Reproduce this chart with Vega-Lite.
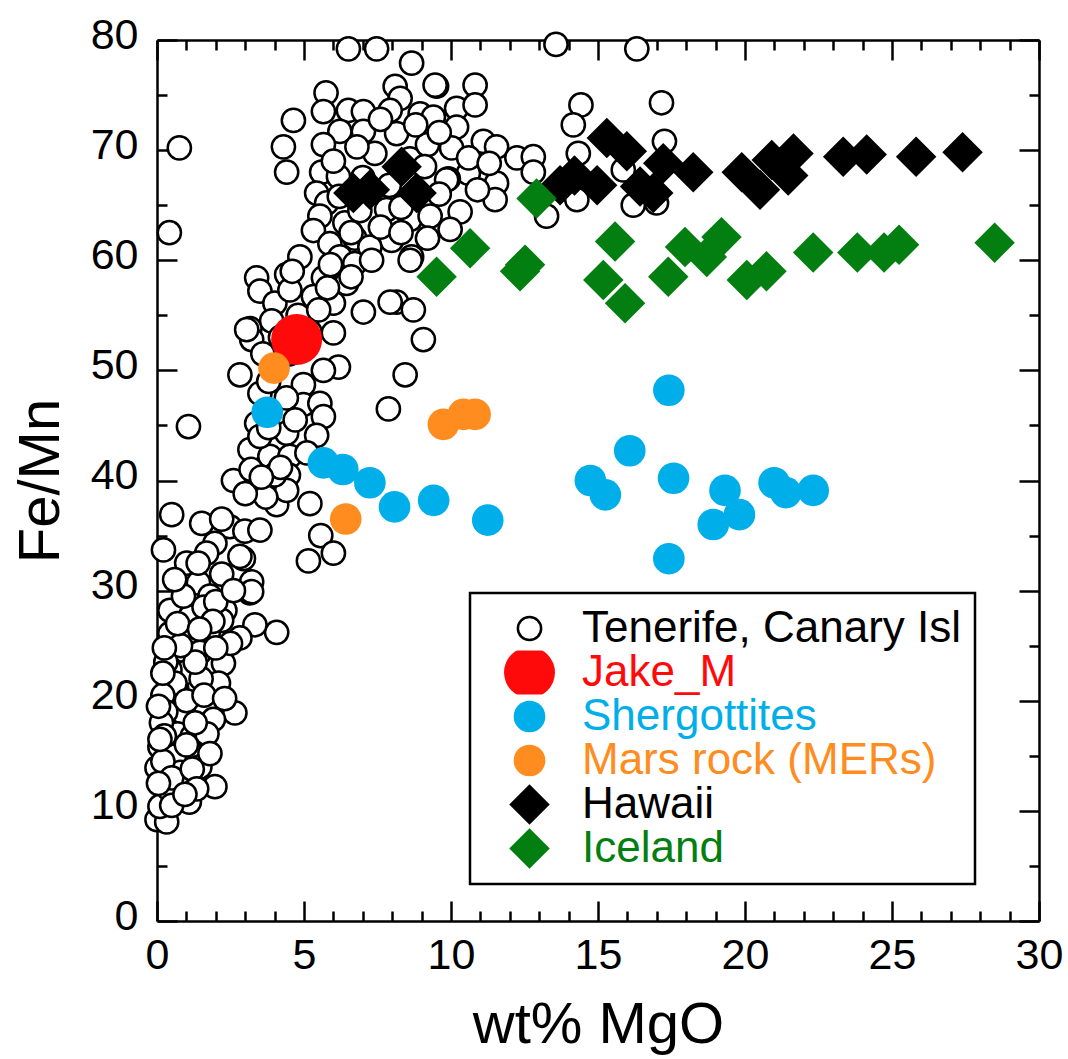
{
"$schema": "https://vega.github.io/schema/vega-lite/v6.json",
"width": 882, "height": 881,
"autosize": {"type": "none"},
"padding": {"left": 157, "top": 40, "right": 29, "bottom": 138},
"background": "white",
"config": {"view": {"stroke": null}, "font": "Liberation Sans",
  "axis": {"labelFont": "Liberation Sans", "titleFont": "Liberation Sans", "labelColor": "black", "titleColor": "black", "domainColor": "black", "domainWidth": 2.5, "tickColor": "black", "tickWidth": 2.5, "grid": false, "labelFlush": false, "labelOverlap": false, "labelBound": false, "titleFontWeight": "normal"}},
"data": {"values": [
{"g":"T","x":0.76,"y":70.2},{"g":"T","x":0.42,"y":62.5},{"g":"T","x":6.51,"y":79.2},{"g":"T","x":7.47,"y":79.2},{"g":"T","x":8.66,"y":77.9},{"g":"T","x":5.75,"y":75.2},{"g":"T","x":4.64,"y":72.7},{"g":"T","x":4.3,"y":70.3},{"g":"T","x":4.41,"y":68.0},{"g":"T","x":5.66,"y":73.5},
{"g":"T","x":6.51,"y":73.6},{"g":"T","x":7.02,"y":73.5},{"g":"T","x":6.22,"y":71.7},{"g":"T","x":7.02,"y":71.7},{"g":"T","x":5.66,"y":70.5},{"g":"T","x":8.1,"y":75.8},{"g":"T","x":8.27,"y":74.7},{"g":"T","x":7.93,"y":73.6},{"g":"T","x":8.15,"y":71.5},{"g":"T","x":8.95,"y":73.3},
{"g":"T","x":7.41,"y":69.7},{"g":"T","x":5.6,"y":68.0},{"g":"T","x":6.17,"y":67.6},{"g":"T","x":5.43,"y":66.1},{"g":"T","x":5.77,"y":65.2},{"g":"T","x":5.54,"y":64.0},{"g":"T","x":6.39,"y":63.4},{"g":"T","x":5.32,"y":62.7},{"g":"T","x":5.88,"y":61.5},{"g":"T","x":6.73,"y":62.0},
{"g":"T","x":7.98,"y":61.8},{"g":"T","x":7.81,"y":64.6},{"g":"T","x":8.61,"y":63.7},{"g":"T","x":8.66,"y":60.3},{"g":"T","x":4.86,"y":60.3},{"g":"T","x":6.22,"y":60.3},{"g":"T","x":6.73,"y":59.7},{"g":"T","x":7.24,"y":61.2},{"g":"T","x":4.41,"y":58.7},{"g":"T","x":3.39,"y":58.4},
{"g":"T","x":3.5,"y":57.2},{"g":"T","x":4.01,"y":56.1},{"g":"T","x":5.66,"y":58.4},{"g":"T","x":5.32,"y":56.7},{"g":"T","x":6.0,"y":56.1},{"g":"T","x":7.02,"y":55.3},{"g":"T","x":6.45,"y":57.9},{"g":"T","x":8.15,"y":56.2},{"g":"T","x":3.16,"y":53.8},{"g":"T","x":4.52,"y":57.3},
{"g":"T","x":13.57,"y":79.6},{"g":"T","x":16.32,"y":79.2},{"g":"T","x":14.42,"y":74.1},{"g":"T","x":14.16,"y":72.3},{"g":"T","x":14.33,"y":69.7},{"g":"T","x":17.16,"y":74.3},{"g":"T","x":17.26,"y":70.8},{"g":"T","x":9.51,"y":75.8},{"g":"T","x":10.19,"y":73.8},{"g":"T","x":10.82,"y":75.9},
{"g":"T","x":10.82,"y":74.1},{"g":"T","x":9.4,"y":73.0},{"g":"T","x":10.19,"y":72.1},{"g":"T","x":10.02,"y":70.2},{"g":"T","x":11.1,"y":70.8},{"g":"T","x":11.55,"y":70.3},{"g":"T","x":12.24,"y":69.3},{"g":"T","x":12.8,"y":69.4},{"g":"T","x":12.8,"y":68.0},{"g":"T","x":11.55,"y":67.0},
{"g":"T","x":11.5,"y":65.5},{"g":"T","x":10.59,"y":67.9},{"g":"T","x":9.91,"y":67.4},{"g":"T","x":10.31,"y":64.4},{"g":"T","x":9.97,"y":62.8},{"g":"T","x":9.29,"y":64.0},{"g":"T","x":13.25,"y":64.0},{"g":"T","x":14.28,"y":65.5},{"g":"T","x":16.2,"y":65.0},{"g":"T","x":16.99,"y":65.2},
{"g":"T","x":15.86,"y":68.2},{"g":"T","x":3.22,"y":52.8},{"g":"T","x":3.05,"y":53.7},{"g":"T","x":6.0,"y":53.4},{"g":"T","x":6.17,"y":50.3},{"g":"T","x":5.66,"y":50.0},{"g":"T","x":2.82,"y":49.6},{"g":"T","x":4.98,"y":48.7},{"g":"T","x":3.5,"y":47.9},{"g":"T","x":4.98,"y":46.9},
{"g":"T","x":5.54,"y":47.0},{"g":"T","x":5.66,"y":45.8},{"g":"T","x":4.41,"y":44.3},{"g":"T","x":5.43,"y":44.1},{"g":"T","x":3.39,"y":45.2},{"g":"T","x":3.16,"y":42.8},{"g":"T","x":3.84,"y":42.2},{"g":"T","x":4.52,"y":42.2},{"g":"T","x":4.47,"y":40.5},{"g":"T","x":3.28,"y":39.6},
{"g":"T","x":2.6,"y":40.0},{"g":"T","x":4.07,"y":37.8},{"g":"T","x":5.2,"y":37.9},{"g":"T","x":4.41,"y":39.1},{"g":"T","x":1.07,"y":44.9},{"g":"T","x":7.87,"y":46.5},{"g":"T","x":8.44,"y":49.6},{"g":"T","x":9.06,"y":52.8},{"g":"T","x":0.5,"y":36.9},{"g":"T","x":1.52,"y":36.1},
{"g":"T","x":2.48,"y":35.8},{"g":"T","x":2.99,"y":35.4},{"g":"T","x":3.5,"y":35.5},{"g":"T","x":1.97,"y":34.3},{"g":"T","x":0.22,"y":33.7},{"g":"T","x":1.01,"y":32.5},{"g":"T","x":1.69,"y":33.4},{"g":"T","x":2.94,"y":32.9},{"g":"T","x":5.57,"y":35.0},{"g":"T","x":5.15,"y":32.7},
{"g":"T","x":6.0,"y":33.4},{"g":"T","x":3.22,"y":30.8},{"g":"T","x":1.41,"y":30.7},{"g":"T","x":1.8,"y":29.5},{"g":"T","x":0.44,"y":28.2},{"g":"T","x":1.18,"y":27.9},{"g":"T","x":2.31,"y":28.2},{"g":"T","x":3.16,"y":29.8},{"g":"T","x":4.07,"y":26.2},{"g":"T","x":3.33,"y":26.9},
{"g":"T","x":2.82,"y":25.7},{"g":"T","x":1.12,"y":27.6},{"g":"T","x":1.74,"y":26.1},{"g":"T","x":0.44,"y":26.1},{"g":"T","x":0.9,"y":24.6},{"g":"T","x":1.46,"y":24.4},{"g":"T","x":2.26,"y":23.4},{"g":"T","x":0.55,"y":21.9},{"g":"T","x":2.09,"y":21.6},{"g":"T","x":0.67,"y":21.1},
{"g":"T","x":1.01,"y":22.6},{"g":"T","x":1.63,"y":19.6},{"g":"T","x":2.65,"y":18.9},{"g":"T","x":0.38,"y":17.9},{"g":"T","x":0.9,"y":18.9},{"g":"T","x":1.92,"y":18.3},{"g":"T","x":0.1,"y":15.8},{"g":"T","x":0.9,"y":14.9},{"g":"T","x":1.41,"y":15.5},{"g":"T","x":1.46,"y":14.0},
{"g":"T","x":0.0,"y":13.9},{"g":"T","x":1.97,"y":12.2},{"g":"T","x":0.72,"y":12.5},{"g":"T","x":0.33,"y":11.3},{"g":"T","x":0.0,"y":9.2},{"g":"T","x":0.33,"y":9.0},{"g":"T","x":0.1,"y":10.4},{"g":"T","x":1.12,"y":12.8},{"g":"T","x":2.82,"y":33.1},{"g":"T","x":3.22,"y":29.9},
{"g":"T","x":2.2,"y":27.3},{"g":"T","x":0.44,"y":22.8},{"g":"T","x":0.61,"y":21.6},{"g":"T","x":7.93,"y":56.2},{"g":"T","x":8.72,"y":55.5},{"g":"T","x":9.85,"y":67.3},{"g":"T","x":9.46,"y":75.9},{"g":"T","x":8.61,"y":60.0},
{"g":"T","x":0.2,"y":20.5},{"g":"T","x":0.3,"y":19.0},{"g":"T","x":0.5,"y":16.5},{"g":"T","x":0.6,"y":15.0},{"g":"T","x":0.8,"y":13.5},{"g":"T","x":0.4,"y":12.0},{"g":"T","x":0.2,"y":14.5},{"g":"T","x":0.7,"y":17.0},{"g":"T","x":1.2,"y":16.8},{"g":"T","x":1.0,"y":20.0},
{"g":"T","x":1.5,"y":22.0},{"g":"T","x":1.3,"y":23.5},{"g":"T","x":0.8,"y":25.0},{"g":"T","x":1.6,"y":28.5},{"g":"T","x":2.0,"y":29.0},{"g":"T","x":0.9,"y":29.5},{"g":"T","x":0.6,"y":31.0},{"g":"T","x":1.4,"y":32.5},{"g":"T","x":2.2,"y":31.5},{"g":"T","x":2.6,"y":30.0},
{"g":"T","x":1.9,"y":27.2},{"g":"T","x":2.5,"y":25.2},{"g":"T","x":0.3,"y":23.5},{"g":"T","x":0.15,"y":18.0},{"g":"T","x":0.25,"y":16.8},{"g":"T","x":0.5,"y":13.0},{"g":"T","x":1.2,"y":13.8},{"g":"T","x":1.7,"y":17.0},{"g":"T","x":1.1,"y":10.8},{"g":"T","x":0.5,"y":10.5},
{"g":"T","x":4.8,"y":55.0},{"g":"T","x":5.2,"y":53.5},{"g":"T","x":5.5,"y":55.5},{"g":"T","x":4.5,"y":51.5},{"g":"T","x":5.8,"y":57.5},{"g":"T","x":6.6,"y":58.5},{"g":"T","x":7.3,"y":60.0},{"g":"T","x":7.6,"y":63.0},{"g":"T","x":8.3,"y":62.5},{"g":"T","x":6.9,"y":64.5},
{"g":"T","x":6.2,"y":65.8},{"g":"T","x":7.0,"y":67.5},{"g":"T","x":7.9,"y":66.8},{"g":"T","x":8.6,"y":69.2},{"g":"T","x":9.2,"y":70.5},{"g":"T","x":9.6,"y":71.6},{"g":"T","x":8.8,"y":72.3},{"g":"T","x":7.6,"y":72.8},{"g":"T","x":6.8,"y":70.3},{"g":"T","x":6.0,"y":69.0},
{"g":"T","x":9.1,"y":68.5},{"g":"T","x":9.6,"y":66.0},{"g":"T","x":10.6,"y":69.3},{"g":"T","x":11.3,"y":68.8},{"g":"T","x":10.9,"y":66.4},{"g":"T","x":8.3,"y":64.8},{"g":"T","x":9.2,"y":62.0},{"g":"T","x":6.6,"y":62.5},{"g":"T","x":5.9,"y":59.6},{"g":"T","x":4.6,"y":59.0},
{"g":"T","x":3.9,"y":54.5},{"g":"T","x":4.2,"y":53.0},{"g":"T","x":3.6,"y":51.5},{"g":"T","x":3.8,"y":49.0},{"g":"T","x":4.4,"y":47.5},{"g":"T","x":3.5,"y":44.0},{"g":"T","x":3.2,"y":41.0},{"g":"T","x":4.7,"y":45.5},{"g":"T","x":5.1,"y":42.5},{"g":"T","x":4.0,"y":40.5},
{"g":"T","x":3.7,"y":38.5},{"g":"T","x":2.2,"y":36.5},{"g":"T","x":3.0,"y":38.8},
{"g":"T","x":0.05,"y":12.5},{"g":"T","x":0.1,"y":16.5},{"g":"T","x":0.05,"y":19.5},{"g":"T","x":0.2,"y":22.5},{"g":"T","x":0.25,"y":24.8},{"g":"T","x":1.3,"y":18.0},{"g":"T","x":1.6,"y":20.5},{"g":"T","x":1.8,"y":15.2},{"g":"T","x":1.0,"y":16.0},{"g":"T","x":1.35,"y":12.0},
{"g":"T","x":0.95,"y":11.5},{"g":"T","x":2.3,"y":20.2},{"g":"T","x":2.0,"y":24.8},{"g":"T","x":0.7,"y":27.0},{"g":"T","x":1.45,"y":26.5},{"g":"T","x":3.8,"y":44.8},{"g":"T","x":4.2,"y":41.2},{"g":"T","x":3.55,"y":40.3},
{"g":"J","x":4.75,"y":52.8},
{"g":"S","x":3.75,"y":46.2},{"g":"S","x":5.66,"y":41.6},{"g":"S","x":6.32,"y":41.0},{"g":"S","x":7.24,"y":39.8},{"g":"S","x":8.08,"y":37.6},{"g":"S","x":9.41,"y":38.2},{"g":"S","x":11.25,"y":36.4},{"g":"S","x":17.41,"y":48.2},{"g":"S","x":16.08,"y":42.7},{"g":"S","x":14.74,"y":40.0},
{"g":"S","x":15.25,"y":38.7},{"g":"S","x":17.57,"y":40.2},{"g":"S","x":17.41,"y":32.9},{"g":"S","x":19.32,"y":39.1},{"g":"S","x":18.92,"y":36.0},{"g":"S","x":19.81,"y":36.9},{"g":"S","x":20.99,"y":39.8},{"g":"S","x":21.39,"y":38.9},{"g":"S","x":22.32,"y":39.1},
{"g":"M","x":3.98,"y":50.2},{"g":"M","x":9.74,"y":45.1},{"g":"M","x":10.42,"y":46.0},{"g":"M","x":10.82,"y":46.0},{"g":"M","x":6.42,"y":36.5},
{"g":"H","x":6.68,"y":66.1},{"g":"H","x":7.24,"y":66.4},{"g":"H","x":8.32,"y":68.5},{"g":"H","x":8.83,"y":66.1},{"g":"H","x":13.71,"y":66.8},{"g":"H","x":14.2,"y":67.7},{"g":"H","x":14.97,"y":66.8},{"g":"H","x":15.3,"y":71.1},{"g":"H","x":15.98,"y":69.9},{"g":"H","x":16.43,"y":66.7},
{"g":"H","x":16.88,"y":66.1},{"g":"H","x":17.22,"y":68.8},{"g":"H","x":18.24,"y":68.0},{"g":"H","x":19.89,"y":68.0},{"g":"H","x":20.51,"y":66.4},{"g":"H","x":20.91,"y":69.1},{"g":"H","x":21.65,"y":69.7},{"g":"H","x":21.47,"y":67.7},{"g":"H","x":23.34,"y":69.4},{"g":"H","x":24.14,"y":69.6},
{"g":"H","x":25.82,"y":69.4},{"g":"H","x":27.4,"y":69.8},
{"g":"I","x":9.51,"y":58.5},{"g":"I","x":10.65,"y":61.1},{"g":"I","x":12.35,"y":59.0},{"g":"I","x":12.52,"y":59.6},{"g":"I","x":12.91,"y":65.6},{"g":"I","x":15.58,"y":61.7},{"g":"I","x":15.18,"y":58.2},{"g":"I","x":15.92,"y":56.1},{"g":"I","x":17.39,"y":58.5},{"g":"I","x":17.96,"y":61.2},
{"g":"I","x":18.7,"y":60.3},{"g":"I","x":19.2,"y":62.1},{"g":"I","x":20.06,"y":58.2},{"g":"I","x":20.73,"y":59.0},{"g":"I","x":22.32,"y":60.7},{"g":"I","x":23.82,"y":60.7},{"g":"I","x":24.73,"y":60.7},{"g":"I","x":25.24,"y":61.4},{"g":"I","x":28.49,"y":61.6}
]},
"layer": [
{
 "mark": {"type": "point", "filled": true, "opacity": 1, "strokeWidth": 2.5},
 "encoding": {
  "x": {"field": "x", "type": "quantitative", "scale": {"domain": [0, 30], "nice": false, "zero": false},
    "axis": {"orient": "bottom", "values": [0,1,2,3,4,5,6,7,8,9,10,11,12,13,14,15,16,17,18,19,20,21,22,23,24,25,26,27,28,29,30],
      "labelExpr": "datum.value % 5 === 0 ? datum.label : ''",
      "tickSize": {"condition": {"test": "datum.value % 5 === 0", "value": -20}, "value": -10},
      "labelPadding": 33, "labelFontSize": 43, "title": "wt% MgO", "titleFontSize": 58, "titlePadding": 9}},
  "y": {"field": "y", "type": "quantitative", "scale": {"domain": [0, 80], "nice": false, "zero": false},
    "axis": {"orient": "left", "values": [0,5,10,15,20,25,30,35,40,45,50,55,60,65,70,75,80],
      "labelExpr": "datum.value % 10 === 0 ? datum.label : ''",
      "tickSize": {"condition": {"test": "datum.value % 10 === 0", "value": -20}, "value": -10},
      "labelPadding": 39, "labelOffset": -5, "labelFontSize": 43, "title": "Fe/Mn", "titleFontSize": 58, "titlePadding": 20}},
  "fill": {"field": "g", "type": "nominal",
    "scale": {"domain": ["T","J","S","M","H","I"], "range": ["#ffffff","#ff0a0a","#00aeea","#fe8c1e","#000000","#027f10"]},
    "legend": {"orient": "none", "legendX": 313, "legendY": 553, "title": null, "padding": 13.5, "strokeColor": "black", "fillColor": "white",
      "labelExpr": "{'T':'Tenerife, Canary Isl\u00a0','J':'Jake_M','S':'Shergottites','M':'Mars rock (MERs)','H':'Hawaii','I':'Iceland'}[datum.value]",
      "labelFontSize": 44, "labelFont": "Liberation Sans", "labelLimit": 0, "symbolOffset": 19, "labelOffset": 25.5, "rowPadding": 0, "clipHeight": 44, "symbolStrokeWidth": 2.5, "symbolOpacity": 1,
      "encode": {"legend": {"update": {"strokeWidth": {"value": 2.5}}},
        "labels": {"update": {"fill": {"signal": "datum.value === 'J' ? '#ff0a0a' : datum.value === 'S' ? '#00aeea' : datum.value === 'M' ? '#fe8c1e' : datum.value === 'I' ? '#027f10' : '#000000'"}}}}}},
  "stroke": {"field": "g", "type": "nominal",
    "scale": {"domain": ["T","J","S","M","H","I"], "range": ["#000000","rgba(0,0,0,0)","rgba(0,0,0,0)","rgba(0,0,0,0)","rgba(0,0,0,0)","rgba(0,0,0,0)"]}},
  "shape": {"field": "g", "type": "nominal",
    "scale": {"domain": ["T","J","S","M","H","I"], "range": ["circle","circle","circle","circle","diamond","diamond"]}},
  "size": {"field": "g", "type": "nominal",
    "scale": {"type": "ordinal", "domain": ["T","J","S","M","H","I"], "range": [540, 2600, 1000, 1000, 1640, 1640]}}
 }
},
{
 "mark": {"type": "point", "opacity": 0},
 "encoding": {
  "x": {"field": "x", "type": "quantitative", "scale": {"domain": [0, 30], "nice": false, "zero": false},
    "axis": {"orient": "top", "values": [0,1,2,3,4,5,6,7,8,9,10,11,12,13,14,15,16,17,18,19,20,21,22,23,24,25,26,27,28,29,30],
      "labels": false, "title": null,
      "tickSize": {"condition": {"test": "datum.value % 5 === 0", "value": -20}, "value": -10}}},
  "y": {"field": "y", "type": "quantitative", "scale": {"domain": [0, 80], "nice": false, "zero": false},
    "axis": {"orient": "right", "values": [0,5,10,15,20,25,30,35,40,45,50,55,60,65,70,75,80],
      "labels": false, "title": null,
      "tickSize": {"condition": {"test": "datum.value % 10 === 0", "value": -20}, "value": -10}}}
 }
}
],
"resolve": {"axis": {"x": "independent", "y": "independent"}}
}
